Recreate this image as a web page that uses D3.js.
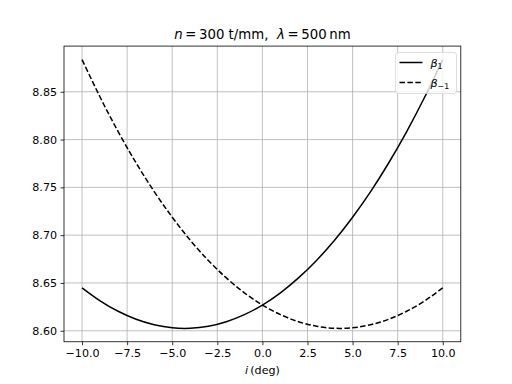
<!DOCTYPE html>
<html>
<head>
<meta charset="utf-8">
<script src="https://cdn.jsdelivr.net/npm/d3@7"></script>
<style>
  body { margin: 0; background: #fff; }
  text { font-family: "DejaVu Sans", sans-serif; fill: #000; }
</style>
</head>
<body>
<div id="chart"></div>
<script>
// incidence angle i (deg)
var incidence = [-10, -9, -8, -7, -6, -5, -4, -3, -2, -1, 0, 1, 2, 3, 4, 5, 6, 7, 8, 9, 10];
// beta_1 and beta_-1
var beta1 = [8.6449, 8.6313, 8.6204, 8.6120, 8.6063, 8.6031, 8.6026, 8.6047, 8.6095, 8.6169, 8.6269,
             8.6397, 8.6553, 8.6736, 8.6947, 8.7188, 8.7456, 8.7755, 8.8084, 8.8445, 8.8837];
var betaM1 = [8.8837, 8.8445, 8.8084, 8.7755, 8.7456, 8.7188, 8.6947, 8.6736, 8.6553, 8.6397, 8.6269,
              8.6169, 8.6095, 8.6047, 8.6026, 8.6031, 8.6063, 8.6120, 8.6204, 8.6313, 8.6449];
var xTicks = [-10, -7.5, -5, -2.5, 0, 2.5, 5, 7.5, 10];
var yTicks = [8.60, 8.65, 8.70, 8.75, 8.80, 8.85];

var W = 512, H = 384;
var mLeft = 64, mRight = 460.8, mTop = 46.08, mBottom = 341.76;

var svg = d3.select("#chart").append("svg")
    .attr("width", W).attr("height", H);

var x = d3.scaleLinear().domain([-11, 11]).range([mLeft, mRight]);
var y = d3.scaleLinear().domain([8.5885, 8.8978]).range([mBottom, mTop]);

// grid
svg.append("g").selectAll("line").data(xTicks).enter().append("line")
    .attr("x1", d => x(d)).attr("x2", d => x(d))
    .attr("y1", mTop).attr("y2", mBottom)
    .style("stroke", "#b0b0b0").style("stroke-width", 0.8);
svg.append("g").selectAll("line").data(yTicks).enter().append("line")
    .attr("y1", d => y(d)).attr("y2", d => y(d))
    .attr("x1", mLeft).attr("x2", mRight)
    .style("stroke", "#b0b0b0").style("stroke-width", 0.8);

// axes
var fmtX = d => d3.format(".1f")(d).replace("-", "\u2212");
var xAxis = d3.axisBottom(x).tickValues(xTicks).tickFormat(fmtX).tickSize(3.5).tickPadding(3.5);
var yAxis = d3.axisLeft(y).tickValues(yTicks).tickFormat(d3.format(".2f")).tickSize(3.5).tickPadding(3.5);

var gx = svg.append("g").attr("transform", "translate(0," + mBottom + ")").call(xAxis);
var gy = svg.append("g").attr("transform", "translate(" + mLeft + ",0)").call(yAxis);
[gx, gy].forEach(function(g){
  g.select(".domain").remove();
  g.selectAll(".tick line").style("stroke", "#000").style("stroke-width", 0.8);
  g.selectAll(".tick text").style("font-size", "11.1px").style("font-family", "DejaVu Sans");
});

// curves
var line = d3.line().curve(d3.curveNatural);
var pts1 = incidence.map((d, k) => [x(d), y(beta1[k])]);
var pts2 = incidence.map((d, k) => [x(d), y(betaM1[k])]);

svg.append("path").attr("d", line(pts1))
    .style("fill", "none").style("stroke", "#000").style("stroke-width", 1.5);
svg.append("path").attr("d", line(pts2))
    .style("fill", "none").style("stroke", "#000").style("stroke-width", 1.5)
    .style("stroke-dasharray", "5.5,2.4");

// frame
svg.append("rect").attr("x", mLeft).attr("y", mTop)
    .attr("width", mRight - mLeft).attr("height", mBottom - mTop)
    .style("fill", "none").style("stroke", "#000").style("stroke-width", 0.8);

// title
var title = svg.append("text").attr("x", (mLeft + mRight) / 2).attr("y", mTop - 7)
    .attr("text-anchor", "middle").style("font-size", "13.3px");
title.append("tspan").style("font-style", "italic").text("n");
title.append("tspan").text("\u2009=\u2009300 t/mm,\u00a0 ");
title.append("tspan").style("font-style", "italic").text("\u03bb");
title.append("tspan").text("\u2009=\u2009500\u2009nm");

// x label
var xl = svg.append("text").attr("x", (mLeft + mRight) / 2).attr("y", 374)
    .attr("text-anchor", "middle").style("font-size", "11.1px");
xl.append("tspan").style("font-style", "italic").text("i");
xl.append("tspan").text("\u2009(deg)");

// legend
var lg = svg.append("g");
lg.append("rect").attr("x", 395.5).attr("y", 52.5).attr("width", 61).attr("height", 41)
    .attr("rx", 2.5)
    .style("fill", "#fff").style("fill-opacity", 0.8)
    .style("stroke", "#d5d5d5").style("stroke-width", 0.8);
var items = [{dash: null, sym: "\u03b2", sub: "1"}, {dash: "5.5,2.4", sym: "\u03b2", sub: "\u22121"}];
items.forEach(function(it, k){
  var yy = 62.5 + k * 20;
  var l = lg.append("line").attr("x1", 399.5).attr("x2", 422.5).attr("y1", yy).attr("y2", yy)
      .style("stroke", "#000").style("stroke-width", 1.5);
  if (it.dash) l.style("stroke-dasharray", it.dash);
  var t = lg.append("text").attr("x", 430.5).attr("y", yy + 4).style("font-size", "11.1px");
  t.append("tspan").style("font-style", "italic").text(it.sym);
  t.append("tspan").attr("dy", 2.5).style("font-size", "7.8px").text(it.sub);
});
</script>
</body>
</html>
